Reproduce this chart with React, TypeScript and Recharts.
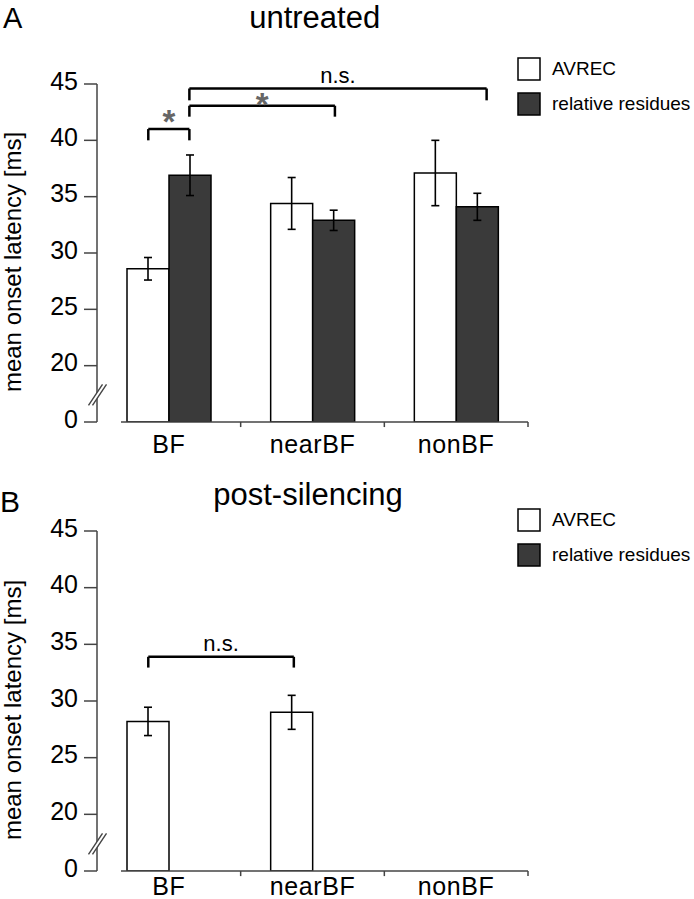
import React from 'react'
import { BarChart, Bar, XAxis, YAxis, ErrorBar, ReferenceLine } from 'recharts'

const FONT = '"Liberation Sans", Arial, Helvetica, sans-serif'
const DARK = '#3a3a3a'
const AXIS = '#444'

const CATEGORIES = ['BF', 'nearBF', 'nonBF']

// A: untreated, mean onset latency [ms]
const AVREC_A = [28.6, 34.4, 37.1]
const AVREC_A_ERR = [1.0, 2.3, 2.9]
const RESID_A = [36.9, 32.9, 34.1]
const RESID_A_ERR = [1.8, 0.9, 1.2]

// B: post-silencing (only AVREC for BF / nearBF)
const AVREC_B = [28.2, 29.0, null]
const AVREC_B_ERR = [1.25, 1.5, null]
const RESID_B = [null, null, null]
const RESID_B_ERR = [null, null, null]

const Y_TICKS = [0, 20, 25, 30, 35, 40, 45]
const LEGEND = [
  { label: 'AVREC', fill: '#fff' },
  { label: 'relative residues', fill: DARK },
]

// significance brackets: x in category units (0..3), y in ms
const BRACKETS_A = [
  { from: 0.357, to: 0.643, top: 41.0, foot: 40.0, text: '*' },
  { from: 0.643, to: 1.656, top: 43.07, foot: 42.1, text: '*' },
  { from: 0.643, to: 2.712, top: 44.6, foot: 43.55, text: 'n.s.' },
]
const BRACKETS_B = [{ from: 0.357, to: 1.37, top: 33.9, foot: 32.95, text: 'n.s.' }]

// broken axis: 0..20 squeezed into one tick step, above 20 linear
const toAxis = (v: number | null) => (v == null ? null : v >= 20 ? v - 15 : v / 4)
const fromAxis = (t: number) => (t >= 5 ? Math.round(t + 15) : Math.round(t * 4))
const BREAK_AT = 2.4

const rows = (av: any[], avErr: any[], re: any[], reErr: any[]) =>
  CATEGORIES.map((name, i) => ({
    name,
    pos: i + 0.5,
    avrec: toAxis(av[i]),
    avrecErr: avErr[i],
    resid: toAxis(re[i]),
    residErr: reErr[i],
  }))

function YTick(props: any) {
  const { x, y, payload } = props
  const v = payload.value
  if (Math.abs(v - BREAK_AT) < 1e-6) {
    return (
      <g>
        <polygon
          points={`${x - 8.5},${y + 10.5} ${x + 5.5},${y - 10.5} ${x + 9.5},${y - 10.5} ${x - 4.5},${y + 10.5}`}
          fill="#fff"
        />
        <line x1={x - 8.5} y1={y + 10.5} x2={x + 5.5} y2={y - 10.5} stroke={AXIS} strokeWidth={1.4} />
        <line x1={x - 4.5} y1={y + 10.5} x2={x + 9.5} y2={y - 10.5} stroke={AXIS} strokeWidth={1.4} />
      </g>
    )
  }
  return (
    <g>
      <line x1={x - 13} y1={y} x2={x} y2={y} stroke={AXIS} strokeWidth={1.5} />
      <text x={x - 19} y={y + 5.5} textAnchor="end" fontSize={25} fill="#000" fontFamily={FONT}>
        {fromAxis(v)}
      </text>
    </g>
  )
}

function Panel({ data, brackets, height, axisHeight, labelGap, starOffsets }: any) {
  const lines: any[] = []
  brackets.forEach((b: any, i: number) => {
    const isStar = b.text === '*'
    const common = { stroke: '#000', strokeWidth: 2.5, ifOverflow: 'visible' as const }
    lines.push(
      <ReferenceLine key={`l${i}`} {...common} segment={[{ x: b.from, y: toAxis(b.foot) }, { x: b.from, y: toAxis(b.top) }]} />,
      <ReferenceLine key={`r${i}`} {...common} segment={[{ x: b.to, y: toAxis(b.foot) }, { x: b.to, y: toAxis(b.top) }]} />,
      <ReferenceLine
        key={`t${i}`}
        {...common}
        segment={[{ x: b.from, y: toAxis(b.top) }, { x: b.to, y: toAxis(b.top) }]}
        label={{
          value: b.text,
          position: 'top',
          offset: isStar ? starOffsets[i] : 6,
          fill: isStar ? '#666' : '#000',
          fontSize: isStar ? 33 : 22,
          fontWeight: isStar ? 700 : 400,
          fontFamily: FONT,
        }}
      />
    )
  })

  return (
    <BarChart
      width={694}
      height={height}
      data={data}
      margin={{ top: 84, right: 166, bottom: 0, left: 0 }}
      barGap={0}
    >
      <XAxis
        dataKey="pos"
        type="number"
        domain={[0, 3]}
        allowDataOverflow
        ticks={[0.5, 1.5, 2.5]}
        tickFormatter={(v: number) => CATEGORIES[Math.floor(v)]}
        axisLine={false}
        tickLine={false}
        tickSize={0}
        tickMargin={labelGap}
        interval={0}
        height={axisHeight}
        tick={{ fill: '#000', fontSize: 25, fontFamily: FONT, letterSpacing: 0.6 }}
      />
      <YAxis
        type="number"
        domain={[0, 30]}
        allowDataOverflow
        ticks={[...Y_TICKS.map((v) => toAxis(v) as number), BREAK_AT]}
        interval={0}
        width={97}
        tickSize={0}
        tickMargin={0}
        tickLine={false}
        axisLine={{ stroke: AXIS, strokeWidth: 1.5 }}
        tick={<YTick />}
      />
      <ReferenceLine
        ifOverflow="visible"
        stroke={AXIS}
        strokeWidth={1.5}
        segment={[{ x: 0.167, y: 0 }, { x: 3, y: 0 }]}
      />
      {[1, 2, 3].map((k) => (
        <ReferenceLine
          key={`tick${k}`}
          ifOverflow="visible"
          stroke={AXIS}
          strokeWidth={1.5}
          segment={[{ x: k, y: 0 }, { x: k, y: -0.45 }]}
        />
      ))}
      <Bar dataKey="avrec" fill="#fff" stroke="#000" strokeWidth={1.5} barSize={42} isAnimationActive={false}>
        <ErrorBar dataKey="avrecErr" width={4} stroke="#000" strokeWidth={1.6} />
      </Bar>
      <Bar dataKey="resid" fill={DARK} stroke="#000" strokeWidth={1.5} barSize={42} isAnimationActive={false}>
        <ErrorBar dataKey="residErr" width={4} stroke="#000" strokeWidth={1.6} />
      </Bar>
      {lines}
    </BarChart>
  )
}

function Legendish({ top }: { top: number }) {
  return (
    <g>
      {LEGEND.map((item, i) => (
        <g key={item.label}>
          <rect x={518} y={top + i * 35} width={22} height={22} fill={item.fill} stroke="#000" strokeWidth={1.5} />
          <text x={552} y={top + 17 + i * 35} fontSize={19} fill="#000" fontFamily={FONT}>
            {item.label}
          </text>
        </g>
      ))}
    </g>
  )
}

export default function App() {
  const dataA = rows(AVREC_A, AVREC_A_ERR, RESID_A, RESID_A_ERR)
  const dataB = rows(AVREC_B, AVREC_B_ERR, RESID_B, RESID_B_ERR)
  const yLabel = 'mean onset latency [ms]'

  return (
    <div style={{ position: 'absolute', top: 0, left: 0, width: 694, height: 899, background: '#fff', fontFamily: FONT }}>
      <div style={{ position: 'absolute', top: 0, left: 0 }}>
        <Panel data={dataA} brackets={BRACKETS_A} height={460} axisHeight={38} labelGap={13} starOffsets={[-4.3, -10.6]} />
      </div>
      <div style={{ position: 'absolute', top: 447, left: 0 }}>
        <Panel data={dataB} brackets={BRACKETS_B} height={452} axisHeight={28} labelGap={6} starOffsets={[]} />
      </div>
      <svg
        width={694}
        height={899}
        style={{ position: 'absolute', top: 0, left: 0, pointerEvents: 'none' }}
        fontFamily={FONT}
      >
        <text x={3} y={28} fontSize={29} fill="#000">A</text>
        <text x={314.7} y={28} fontSize={31} fill="#000" textAnchor="middle">untreated</text>
        <text x={0} y={512} fontSize={30} fill="#000">B</text>
        <text x={308} y={505} fontSize={31} fill="#000" textAnchor="middle">post-silencing</text>
        <text x={21} y={262} fontSize={24} fill="#000" textAnchor="middle" transform="rotate(-90 21 262)">
          {yLabel}
        </text>
        <text x={21} y={710} fontSize={24} fill="#000" textAnchor="middle" transform="rotate(-90 21 710)">
          {yLabel}
        </text>
        <Legendish top={58} />
        <Legendish top={509} />
      </svg>
    </div>
  )
}
